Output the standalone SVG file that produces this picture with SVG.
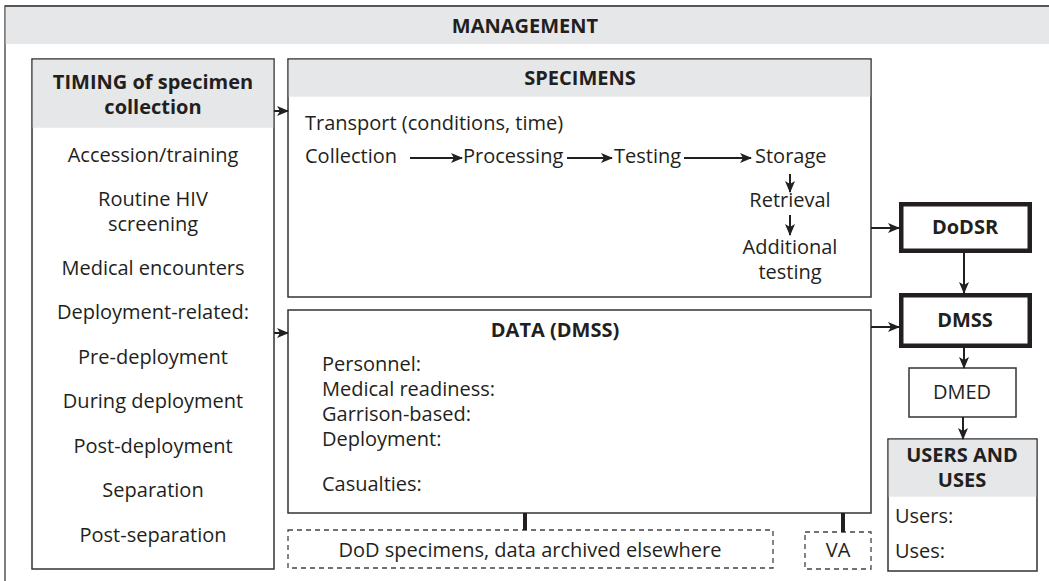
<svg xmlns="http://www.w3.org/2000/svg" width="1049" height="581" viewBox="0 0 1049 581">
<defs>
<style>
text{font-family:"Open Sans","Noto Sans","DejaVu Sans",sans-serif;fill:#231f20;font-size:20px}
.b{font-weight:bold}
.c{text-anchor:middle}
.box{fill:#fff;stroke:#333;stroke-width:1.5}
.hdr{fill:#e6e7e8}
.thick{fill:#fff;stroke:#231f20;stroke-width:4.5}
.dash{fill:#fff;stroke:#444;stroke-width:1.3;stroke-dasharray:5 4}
.ar{stroke:#231f20;stroke-width:2;fill:none;marker-end:url(#ah)}
.bar{stroke:#231f20;stroke-width:4;fill:none}
</style>
<marker id="ah" viewBox="0 0 12 10" refX="11" refY="5" markerWidth="12" markerHeight="10" markerUnits="userSpaceOnUse" orient="auto">
<path d="M0,0 L12,5 L0,10 L3,5 z" fill="#231f20"/>
</marker>
</defs>
<rect width="1049" height="581" fill="#fff"/>
<g id="management">
<rect x="5" y="6" width="1100" height="700" fill="#fff" stroke="#555" stroke-width="1.5"/>
<rect x="5.75" y="6.75" width="1100" height="37.25" class="hdr"/>
<line x1="5" y1="6" x2="1049" y2="6" stroke="#555" stroke-width="2"/>
<text x="525" y="33" class="b c" font-size="18">MANAGEMENT</text>
</g>
<g id="timing">
<rect x="32" y="59" width="242" height="510" class="box"/>
<rect x="32.75" y="59.75" width="240.5" height="68" class="hdr"/>
<text x="153" y="89" class="b c">TIMING of specimen</text>
<text x="153" y="114" class="b c">collection</text>
<text x="153" y="162" class="c">Accession/training</text>
<text x="153" y="206" class="c">Routine HIV</text>
<text x="153" y="231" class="c">screening</text>
<text x="153" y="275" class="c">Medical encounters</text>
<text x="153" y="319" class="c">Deployment-related:</text>
<text x="153" y="364" class="c">Pre-deployment</text>
<text x="153" y="408" class="c">During deployment</text>
<text x="153" y="453" class="c">Post-deployment</text>
<text x="153" y="497" class="c">Separation</text>
<text x="153" y="542" class="c">Post-separation</text>
</g>
<g id="specimens">
<rect x="288" y="59" width="583" height="238" class="box"/>
<rect x="288.75" y="59.75" width="581.5" height="37" class="hdr"/>
<text x="580" y="85" class="b c">SPECIMENS</text>
<text x="305" y="130">Transport (conditions, time)</text>
<text x="305" y="163">Collection</text>
<text x="463" y="163">Processing</text>
<text x="614" y="163">Testing</text>
<text x="755" y="163">Storage</text>
<text x="790" y="207" class="c">Retrieval</text>
<text x="790" y="254" class="c">Additional</text>
<text x="790" y="279" class="c">testing</text>
</g>
<g id="data">
<rect x="288" y="310" width="583" height="203" class="box"/>
<text x="555" y="337" class="b c">DATA (DMSS)</text>
<text x="322" y="371">Personnel:</text>
<text x="322" y="396">Medical readiness:</text>
<text x="322" y="421">Garrison-based:</text>
<text x="322" y="446">Deployment:</text>
<text x="322" y="491">Casualties:</text>
</g>
<g id="archive">
<rect x="288" y="530" width="485" height="38" class="dash"/>
<text x="530" y="557" class="c">DoD specimens, data archived elsewhere</text>
</g>
<g id="va">
<rect x="805" y="532" width="66" height="37" class="dash"/>
<text x="838" y="557" class="c">VA</text>
</g>
<g id="dodsr">
<rect x="901.25" y="204.25" width="128.5" height="46.5" class="thick"/>
<text x="965" y="234" class="b c">DoDSR</text>
</g>
<g id="dmss">
<rect x="901.25" y="295.25" width="128.5" height="50.5" class="thick"/>
<text x="965" y="327" class="b c">DMSS</text>
</g>
<g id="dmed">
<rect x="909" y="368" width="107" height="49" class="box"/>
<text x="962" y="399" class="c">DMED</text>
</g>
<g id="users">
<rect x="888" y="439" width="149" height="132" class="box"/>
<rect x="888.75" y="439.75" width="147.5" height="57" class="hdr"/>
<text x="962" y="462" class="b c">USERS AND</text>
<text x="962" y="487" class="b c">USES</text>
<text x="895" y="523">Users:</text>
<text x="895" y="558">Uses:</text>
</g>
<g id="connectors">
<line x1="274" y1="111" x2="288" y2="111" class="ar"/>
<line x1="274" y1="333" x2="288" y2="333" class="ar"/>
<line x1="410" y1="158" x2="462" y2="158" class="ar"/>
<line x1="567" y1="158" x2="612" y2="158" class="ar"/>
<line x1="684" y1="158" x2="751" y2="158" class="ar"/>
<line x1="790" y1="174" x2="790" y2="192" class="ar"/>
<line x1="790" y1="215" x2="790" y2="235" class="ar"/>
<line x1="871" y1="228" x2="899" y2="228" class="ar"/>
<line x1="871" y1="327" x2="899" y2="327" class="ar"/>
<line x1="964" y1="253" x2="964" y2="293" class="ar"/>
<line x1="964" y1="348" x2="964" y2="368" class="ar"/>
<line x1="963" y1="417" x2="963" y2="439" class="ar"/>
<line x1="525" y1="513" x2="525" y2="530" class="bar"/>
<line x1="843" y1="513" x2="843" y2="532" class="bar"/>
</g>
</svg>
